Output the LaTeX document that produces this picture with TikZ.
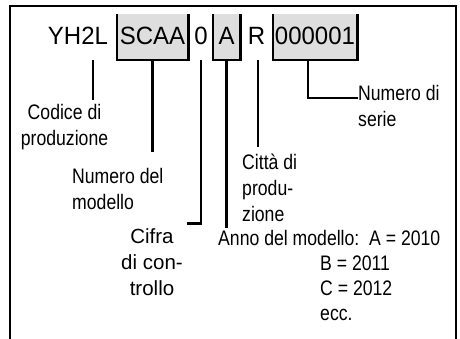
\documentclass[tikz,border=0pt]{standalone}
\usepackage{fontspec}
\setmainfont{Liberation Sans}
\newfontfamily\codefont[FakeStretch=0.96]{Liberation Sans}
\newfontfamily\narrowfont[FakeStretch=0.84]{Liberation Sans}
\definecolor{fieldgray}{RGB}{222,222,222}

\begin{document}
\begin{tikzpicture}[x=1pt, y=-1pt,
    codetext/.style={inner sep=0pt, minimum height=46pt, text height=19pt, text depth=3pt,
                     font=\codefont\fontsize{25}{30}\selectfont},
    codefield/.style={codetext, fill=fieldgray},
    labeltext/.style={inner sep=0pt, font=\narrowfont\fontsize{21}{26}\selectfont},
    leader/.style={line width=2.6pt}]
  \useasboundingbox (0,0) rectangle (460,339);
  \draw[leader] (10,339) |- (456,6) -- (456,339);

  \node[codetext] (yh) at (78,37) {YH2L};
  \node[codefield, minimum width=71pt] (scaa) at (152.5,37) {SCAA};
  \node[codetext] (chk) at (201,37) {0};
  \node[codefield, minimum width=27pt] (yr) at (226.5,37) {A};
  \node[codetext] (city) at (256.5,37) {R};
  \node[codefield, minimum width=84pt] (ser) at (315,37) {000001};
  \foreach \f in {scaa,yr,ser}
    \draw[leader] (\f.north west) |- (\f.south east) -- (\f.north east);

  \node[labeltext, anchor=north, align=center] (prod) at (64.5,104) {Codice di\\produzione};
  \node[labeltext, anchor=north west, align=left] (model) at (72,168) {Numero del\\modello};
  \node[labeltext, anchor=north, align=center, font=\fontsize{20.5}{26}\selectfont] (check) at (152,228)
    {Cifra\\di con-\\trollo};
  \node[labeltext, anchor=north west, align=left] (town) at (242,154) {Città di\\produ-\\zione};
  \node[labeltext, anchor=north west, align=left, font=\narrowfont\fontsize{21}{25}\selectfont] (year) at (218,230)
    {Anno del modello:\ \ A = 2010\\\hspace*{102pt}B = 2011\\\hspace*{102pt}C = 2012\\\hspace*{102pt}ecc.};
  \node[labeltext, anchor=north west, align=left] (serial) at (358,85) {Numero di\\serie};

  \coordinate (yhfoot) at ([xshift=15pt]yh.south);
  \draw[leader, shorten >=4pt] (yhfoot) -- (yhfoot |- prod.north);
  \draw[leader, shorten >=16pt] (scaa.south) -- (scaa.south |- model.north);
  \draw[leader] (chk.south) |- ([xshift=4pt, yshift=4.5pt]check.north east);
  \draw[leader, shorten >=2pt] (yr.south) -- (yr.south |- year.north);
  \coordinate (cityfoot) at ([xshift=1.5pt]city.south);
  \draw[leader, shorten >=7pt] (cityfoot) -- (cityfoot |- town.north);
  \coordinate (serfoot) at ([xshift=-7pt]ser.south);
  \draw[leader] (serfoot) |- ([yshift=-13pt]serial.north west);
\end{tikzpicture}
\end{document}
